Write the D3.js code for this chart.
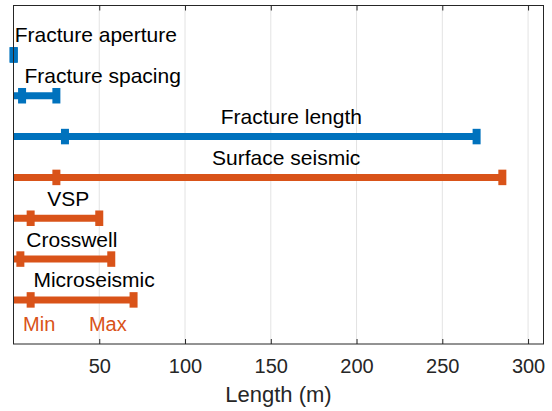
<!DOCTYPE html>
<html>
<head>
<meta charset="utf-8">
<script src="https://cdn.jsdelivr.net/npm/d3@7"></script>
<style>
  body { margin: 0; background: #fff; }
  svg { display: block; }
</style>
</head>
<body>
<div id="drawArea"></div>
<script>
// scale names and ranges, top to bottom
var names = ["Fracture aperture", "Fracture spacing", "Fracture length",
             "Surface seismic", "VSP", "Crosswell", "Microseismic"];
var minValues = [0, 5, 30, 25, 10, 4, 10];
var maxValues = [0.2, 25, 270, 285, 50, 57, 70];
var groups = ["fracture", "fracture", "fracture", "seismic", "seismic", "seismic", "seismic"];
// where each name label is centred, in metres
var labelAt = [48, 52, 162, 159, 32, 34, 47];
var xTicks = [50, 100, 150, 200, 250, 300];
var xLimits = [0, 309];

var colors = { fracture: "#0072BD", seismic: "#D95319" };
var axisColor = "#262626";
var gridColor = "#e3e3e3";
var fontFamily = "Helvetica, 'Liberation Sans', Arial, sans-serif";

var width = 552, height = 411;
// note: "top" is taken by window.top, so box edges get a prefix
var boxLeft = 13.5, boxRight = 543.5, boxTop = 5.5, boxBottom = 344;

var svg = d3.select("#drawArea").append("svg")
  .attr("width", width)
  .attr("height", height);

var x = d3.scaleLinear().domain(xLimits).range([boxLeft, boxRight]);
// rows are evenly spaced; the box extends a little above the first and below the last
var y = d3.scaleLinear().domain([-1.21, 7.08]).range([boxTop, boxBottom]);

// grid
svg.selectAll("line.grid")
  .data(xTicks)
  .enter()
  .append("line")
    .classed("grid", true)
    .attr("x1", function(d) { return x(d); })
    .attr("x2", function(d) { return x(d); })
    .attr("y1", boxTop)
    .attr("y2", boxBottom)
    .attr("stroke", gridColor)
    .attr("stroke-width", 1);

var rows = names.map(function(n, i) {
  return { name: n, min: minValues[i], max: maxValues[i], group: groups[i], label: labelAt[i], i: i };
});

// bars from zero to max
svg.selectAll("line.bar")
  .data(rows)
  .enter()
  .append("line")
    .classed("bar", true)
    .attr("x1", x(0))
    .attr("x2", function(d) { return x(d.max); })
    .attr("y1", function(d) { return y(d.i); })
    .attr("y2", function(d) { return y(d.i); })
    .attr("stroke", function(d) { return colors[d.group]; })
    .attr("stroke-width", 7);

// min and max caps
var capW = 8, capH = 15.5;
["min", "max"].forEach(function(key) {
  svg.selectAll("rect.cap-" + key)
    .data(rows)
    .enter()
    .append("rect")
      .attr("class", "cap-" + key)
      .attr("x", function(d) { return x(d[key]) - capW / 2; })
      .attr("y", function(d) { return y(d.i) - capH / 2; })
      .attr("width", capW)
      .attr("height", capH)
      .attr("fill", function(d) { return colors[d.group]; });
});

// name labels
svg.selectAll("text.name")
  .data(rows)
  .enter()
  .append("text")
    .classed("name", true)
    .attr("x", function(d) { return x(d.label); })
    .attr("y", function(d) { return y(d.i) - 12.5; })
    .attr("text-anchor", "middle")
    .attr("font-family", fontFamily)
    .attr("font-size", 21)
    .attr("fill", "#000")
    .text(function(d) { return d.name; });

// Min / Max hint under the last row
var hints = [{ text: "Min", at: 15 }, { text: "Max", at: 55 }];
svg.selectAll("text.hint")
  .data(hints)
  .enter()
  .append("text")
    .classed("hint", true)
    .attr("x", function(d) { return x(d.at); })
    .attr("y", 331)
    .attr("text-anchor", "middle")
    .attr("font-family", fontFamily)
    .attr("font-size", 20)
    .attr("fill", colors.seismic)
    .text(function(d) { return d.text; });

// box
svg.append("rect")
  .attr("x", boxLeft)
  .attr("y", boxTop)
  .attr("width", boxRight - boxLeft)
  .attr("height", boxBottom - boxTop)
  .attr("fill", "none")
  .attr("stroke", axisColor)
  .attr("stroke-width", 1);

// bottom axis, ticks pointing in
var xAxis = d3.axisBottom(x).tickValues(xTicks).tickSizeInner(-5).tickSizeOuter(0);
var gx = svg.append("g").attr("transform", "translate(0," + boxBottom + ")").call(xAxis);
gx.select(".domain").remove();
gx.selectAll(".tick line").attr("stroke", axisColor);
gx.selectAll(".tick text")
  .attr("fill", axisColor)
  .attr("font-family", fontFamily)
  .attr("font-size", 20)
  .attr("dy", null)
  .attr("y", 29);

// top ticks
var gt = svg.append("g").attr("transform", "translate(0," + boxTop + ")")
  .call(d3.axisTop(x).tickValues(xTicks).tickSizeInner(-5).tickSizeOuter(0).tickFormat(""));
gt.select(".domain").remove();
gt.selectAll(".tick line").attr("stroke", axisColor);

// x label
svg.append("text")
  .attr("x", (boxLeft + boxRight) / 2)
  .attr("y", 402)
  .attr("text-anchor", "middle")
  .attr("font-family", fontFamily)
  .attr("font-size", 22)
  .attr("fill", axisColor)
  .text("Length (m)");
</script>
</body>
</html>
